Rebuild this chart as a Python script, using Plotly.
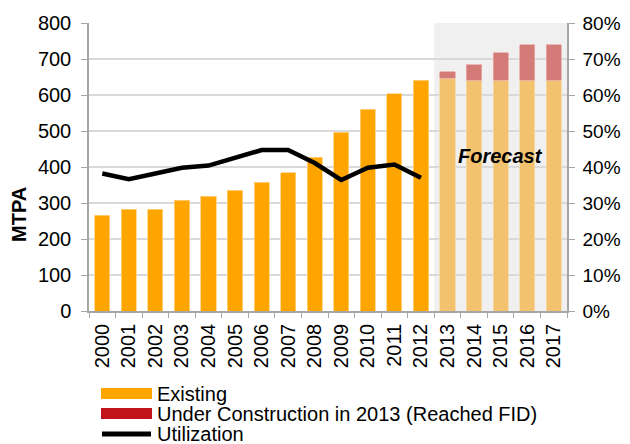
import plotly.graph_objects as go

years = [str(y) for y in range(2000, 2018)]
existing = [266, 282, 282, 308, 319, 336, 357, 384, 427, 497, 561, 603, 641,
            647, 641, 641, 641, 641]
under_construction = [None] * 13 + [17, 43, 76, 98, 98]
util_years = [str(y) for y in range(2000, 2013)]
utilization = [0.382, 0.366, 0.382, 0.398, 0.404, 0.426, 0.447, 0.447, 0.411,
               0.364, 0.398, 0.407, 0.370]
forecast_flags = [False] * 13 + [True] * 5

# page body has an 8px margin; work in window pixels and convert
OFF = 8
W, H = 630 - OFF, 444 - OFF
L, R, T, B = 89 - OFF, 567 - OFF, 23 - OFF, 311 - OFF
FONT = "Liberation Sans, Arial, sans-serif"
FS = 20

def px_x(p):
    return (p - OFF - L) / (R - L)

def px_y(p):
    return (B - (p - OFF)) / (B - T)

exist_colors = ["#F2C26E" if f else "#FFA500" for f in forecast_flags]
exist_lines = ["#F6D9A8" if f else "#FFD27F" for f in forecast_flags]

fig = go.Figure()
fig.add_trace(go.Bar(
    x=years, y=existing, name="Existing",
    marker=dict(color=exist_colors, line=dict(color=exist_lines, width=0.8)),
    showlegend=False,
))
fig.add_trace(go.Bar(
    x=years, y=under_construction, name="Under Construction in 2013 (Reached FID)",
    marker=dict(color="#D47A77", line=dict(color="#E6AAA8", width=0.8)),
    showlegend=False,
))
fig.add_trace(go.Scatter(
    x=util_years, y=utilization, name="Utilization", yaxis="y2",
    mode="lines", line=dict(color="#000000", width=4.5),
    showlegend=False,
))

shapes = [
    dict(type="rect", xref="x", yref="paper", x0=12.5, x1=17.5, y0=0, y1=1,
         fillcolor="#F0F0F0", line=dict(width=0), layer="below"),
    dict(type="rect", xref="paper", yref="paper", x0=px_x(101), x1=px_x(152),
         y0=px_y(399), y1=px_y(388), fillcolor="#FFA500", line=dict(width=0)),
    dict(type="rect", xref="paper", yref="paper", x0=px_x(101), x1=px_x(152),
         y0=px_y(419), y1=px_y(408), fillcolor="#C0141A", line=dict(width=0)),
    dict(type="line", xref="paper", yref="paper", x0=px_x(102), x1=px_x(151),
         y0=px_y(434), y1=px_y(434), line=dict(color="#000000", width=5)),
]

legend_texts = [("Existing", 393.5), ("Under Construction in 2013 (Reached FID)", 413.5),
                ("Utilization", 433.5)]
annotations = []
for txt, yy in legend_texts:
    annotations.append(dict(text=txt, xref="paper", yref="paper", x=px_x(155), y=px_y(yy),
                            xanchor="left", yanchor="middle", showarrow=False,
                            font=dict(family=FONT, size=FS, color="#000000")))
annotations.append(dict(text="<b><i>Forecast</i></b>", xref="x", yref="y", x=15, y=430,
                        xanchor="center", yanchor="middle", showarrow=False,
                        font=dict(family=FONT, size=FS, color="#000000")))
annotations.append(dict(text="<b>MTPA</b>", xref="paper", yref="paper", x=px_x(19), y=px_y(215),
                        xanchor="center", yanchor="middle", showarrow=False, textangle=-90,
                        font=dict(family=FONT, size=FS, color="#000000")))

fig.update_layout(
    width=W, height=H,
    margin=dict(l=L, r=W - R, t=T, b=H - B, pad=0, autoexpand=False),
    paper_bgcolor="#FFFFFF", plot_bgcolor="#FFFFFF",
    barmode="stack", bargap=0.43,
    font=dict(family=FONT, size=FS, color="#000000"),
    shapes=shapes, annotations=annotations,
    xaxis=dict(type="category", tickangle=-90, ticks="outside", ticklen=5,
               tickson="boundaries", tickcolor="#A6A6A6", showline=True,
               linecolor="#A6A6A6", linewidth=1.5, showgrid=False, automargin=False,
               ticklabelstandoff=3, tickfont=dict(size=FS), range=[-0.5, 17.5]),
    yaxis=dict(range=[0, 800], dtick=100, showgrid=True, gridcolor="#D9D9D9",
               gridwidth=1.5, showline=True, linecolor="#A6A6A6", linewidth=1.5,
               ticks="outside", ticklen=6, tickcolor="#A6A6A6", zeroline=False,
               automargin=False, ticklabelstandoff=6, tickfont=dict(size=FS)),
    yaxis2=dict(range=[0, 0.8], dtick=0.1, tickformat=".0%", overlaying="y",
                side="right", showgrid=False, showline=True, linecolor="#A6A6A6",
                linewidth=1.5, ticks="outside", ticklen=6, tickcolor="#A6A6A6",
                zeroline=False, automargin=False, ticklabelstandoff=4,
                tickfont=dict(size=19)),
)

fig.write_html("out.html")
